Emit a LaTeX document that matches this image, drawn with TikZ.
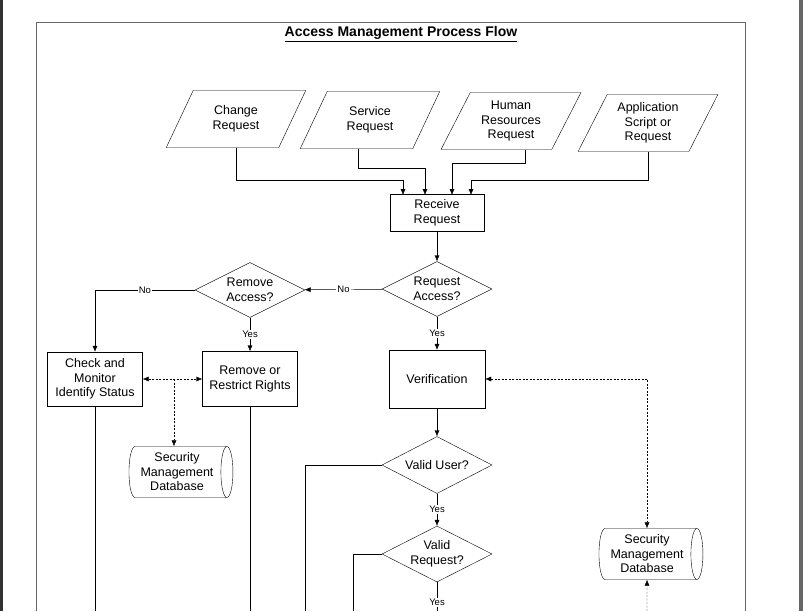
\documentclass[tikz,border=0pt]{standalone}
\usepackage{fontspec}
\setmainfont{Liberation Sans}
\usetikzlibrary{shapes.geometric,arrows.meta,positioning}
\tikzset{basic/.style={draw,fill=white,align=center,font=\fontsize{12.5}{14.5}\selectfont}}
\tikzset{process/.style={basic,rectangle,minimum width=95pt}}
\tikzset{input/.style={basic,trapezium,trapezium left angle=63,trapezium right angle=117,trapezium stretches=true,minimum width=140pt,minimum height=57pt}}
\tikzset{decision/.style={basic,diamond,aspect=2,minimum width=110pt,minimum height=55pt,inner sep=0pt}}
\tikzset{store/.style={basic,cylinder,shape aspect=0.3,minimum width=51pt,minimum height=104pt,inner sep=1pt}}
\tikzset{arrow/.style={draw,-{Latex[length=6pt,width=5pt]}}}
\tikzset{link/.style={arrow,dash pattern=on 2pt off 1.5pt}}
\tikzset{answer/.style={fill=white,inner sep=1pt,font=\fontsize{9.5}{10}\selectfont}}

\begin{document}
\begin{tikzpicture}[x=1pt,y=-1pt]
    \useasboundingbox (0,0) rectangle (803,611);
    \fill[black!80] (0,0) rectangle (3,611);
    \fill[black!60] (799,0) rectangle (803,611);
    \draw[black!60,line width=1pt] (36,611) -- (36,22) -- (745,22) -- (745,611);

    \node[font=\bfseries\fontsize{14}{16}\selectfont] (title) at (401,34) {\underline{Access Management Process Flow}};

    % requests
    \node[input] (change) at (236,119) {Change\\Request};
    \node[input] (service) at (370,120) {Service\\Request};
    \node[input] (hr) at (511,121) {Human\\Resources\\Request};
    \node[input] (app) at (648,123) {Application\\Script or\\Request};

    \node[process,minimum width=94pt,minimum height=37pt] (receive) at (437,213) {Receive\\Request};

    \node[decision] (reqaccess) at (437,289) {Request\\Access?};
    \node[decision] (remaccess) at (250,290) {Remove\\Access?};

    \node[process,minimum height=54pt] (check) at (95,379) {Check and\\Monitor\\Identify Status};
    \node[process,minimum height=55pt] (remove) at (250,379) {Remove or\\Restrict Rights};
    \node[process,minimum width=96pt,minimum height=58pt] (verify) at (437,379) {Verification};

    \node[store] (db1) at (177,472) {Security\\Management\\Database};
    \node[store] (db2) at (647,554) {Security\\Management\\Database};

    \node[decision,minimum height=57pt] (validuser) at (437,465) {Valid User?};
    \node[decision,minimum height=56pt] (validreq) at (437,554) {Valid\\Request?};

    \coordinate (jn) at (174,379);

        \path[arrow] (change.south) |- (403,180) -- (403,195);
        \path[arrow] ([xshift=-12pt]service.south) |- (425,168) -- (425,195);
        \path[arrow] ([xshift=14pt]hr.south) |- (452,163) -- (452,195);
        \path[arrow] (app.south) |- (471,180) -- (471,195);
        \path[arrow] (receive) -- (reqaccess);
        \path[arrow] (reqaccess) -- node[answer] {No} (remaccess);
        \path[arrow] (remaccess.west) -- node[answer] {No} (95,290) -- (check.north);
        \path[arrow] (remaccess) -- node[answer] {Yes} (remove);
        \path[arrow] (reqaccess) -- node[answer] {Yes} (verify);
        \path[arrow] (verify) -- (validuser);
        \path[arrow] (validuser) -- node[answer] {Yes} (validreq);
        \path[link,{Latex[length=6pt,width=5pt]}-{Latex[length=6pt,width=5pt]}] (check) -- (remove);
        \path[link] (jn) -- (jn |- db1.north);
        \path[link,{Latex[length=6pt,width=5pt]}-{Latex[length=6pt,width=5pt]}] (verify.east) -| (db2.north);
        \path[link] (647,611) -- (db2.south);
        \draw (check.south) -- (95,611);
        \draw (remove.south) -- (250,611);
        \draw (validuser.west) -| (305,611);
        \draw (validreq.west) -| (353,611);
        \draw (validreq.south) -- node[answer,pos=0.7] {Yes} (437,611);
  \end{tikzpicture}
\end{document}
